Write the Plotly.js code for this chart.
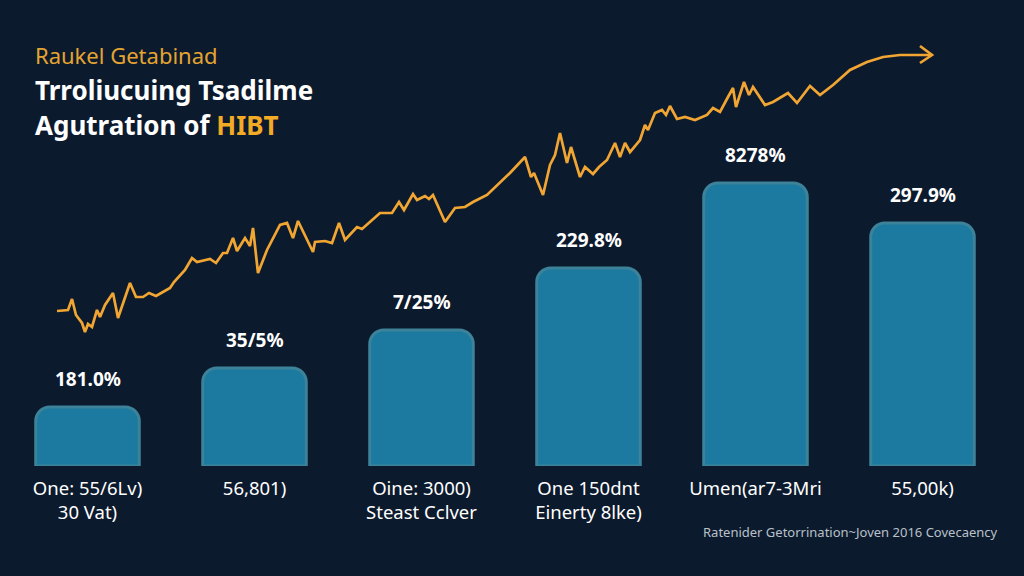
<!DOCTYPE html>
<html>
<head>
<meta charset="utf-8">
<script src="https://cdn.plot.ly/plotly-3.0.1.min.js"></script>
<style>
html,body{margin:0;padding:0;background:#0c1a2d;}
#chart{width:1024px;height:576px;}
</style>
</head>
<body>
<div id="chart"></div>
<script>
// ---- data ----
var categories = ["c1", "c2", "c3", "c4", "c5", "c6"];
var tickLabels = [
  "One: 55/6Lv)<br>30 Vat)",
  "56,801)",
  "Oine: 3000)<br>Steast Cclver",
  "One 150dnt<br>Einerty 8lke)",
  "Umen(ar7-3Mri",
  "55,00k)"
];
var barValues = [59, 98, 136, 198, 283, 243];
var barLabels = ["181.0%", "35/5%", "7/25%", "229.8%", "8278%", "297.9%"];

// trend line (time index, level)
var lineT = [0, 11, 15, 19, 25, 28, 31, 35, 40, 43, 48, 56, 61, 73, 79, 86, 92, 99, 113, 117,
  128, 135, 140, 153, 159, 166, 170, 176, 180, 188, 193, 196, 201, 210, 223, 230, 236, 241, 256, 258,
  268, 275, 282, 288, 300, 305, 323, 335, 342, 347, 356, 360, 368, 372, 376, 388, 398, 408, 416, 430,
  453, 463, 468, 474, 477, 486, 493, 498, 503, 510, 514, 523, 528, 536, 542, 550, 558, 563, 568, 573,
  583, 588, 591, 598, 605, 609, 613, 620, 628, 638, 650, 656, 663, 671, 676, 679, 687, 692, 696, 708,
  716, 731, 740, 753, 763, 776, 793, 810, 826, 843, 875];
var lineV = [155, 156, 167, 151, 143, 134, 142, 139, 156, 149, 161, 173, 148, 183, 169, 169, 173, 170, 178, 184,
  196, 208, 204, 207, 203, 213, 213, 228, 215, 228, 220, 238, 193, 216, 241, 243, 228, 245, 214, 224,
  225, 223, 243, 226, 239, 237, 253, 253, 264, 256, 272, 266, 270, 267, 271, 244, 258, 259, 264, 271,
  293, 303, 309, 289, 293, 271, 301, 311, 333, 303, 319, 289, 299, 292, 299, 306, 323, 309, 323, 314,
  326, 341, 336, 353, 356, 351, 360, 347, 349, 346, 351, 358, 354, 369, 378, 359, 384, 371, 379, 361,
  364, 373, 363, 380, 371, 381, 396, 404, 409, 411, 411];
var arrowT = [863, 875, 863];
var arrowV = [420, 411, 403];

// ---- styles ----
var BG = "#0c1a2d";
var ORANGE = "#f1a633";
var FONT = "Noto Sans, Open Sans, sans-serif";

var traces = [
  {
    type: "bar",
    x: categories,
    y: barValues,
    xaxis: "x",
    yaxis: "y",
    marker: {color: "#1c7aa0", cornerradius: 14, line: {color: "#3c8299", width: 3}},
    hoverinfo: "skip",
    showlegend: false
  },
  {
    type: "scatter",
    mode: "lines",
    x: lineT,
    y: lineV,
    xaxis: "x2",
    yaxis: "y",
    line: {color: ORANGE, width: 2.7, shape: "linear"},
    hoverinfo: "skip",
    showlegend: false
  },
  {
    type: "scatter",
    mode: "lines",
    x: arrowT,
    y: arrowV,
    xaxis: "x2",
    yaxis: "y",
    line: {color: ORANGE, width: 2.7},
    hoverinfo: "skip",
    showlegend: false
  }
];

var annotations = [];
for (var i = 0; i < categories.length; i++) {
  annotations.push({
    x: categories[i], y: barValues[i], xref: "x", yref: "y",
    text: "<b>" + barLabels[i] + "</b>", showarrow: false,
    yshift: 28, yanchor: "middle", xanchor: "center",
    font: {family: FONT, size: 19, color: "#ffffff"}
  });
}
annotations.push(
  {xref: "paper", yref: "paper", x: 33/1024, y: 1 - 55/576, xanchor: "left", yanchor: "middle",
   text: "Raukel Getabinad", showarrow: false,
   font: {family: FONT, size: 22, color: "#e4a431"}},
  {xref: "paper", yref: "paper", x: 33/1024, y: 1 - 90/576, xanchor: "left", yanchor: "middle",
   text: "<b>Trroliucuing Tsadilme</b>", showarrow: false,
   font: {family: FONT, size: 26, color: "#ffffff"}},
  {xref: "paper", yref: "paper", x: 33/1024, y: 1 - 125/576, xanchor: "left", yanchor: "middle",
   text: "<b>Agutration of <span style='color:#f3aa25'>HIBT</span></b>", showarrow: false,
   font: {family: FONT, size: 26, color: "#ffffff"}},
  {xref: "paper", yref: "paper", x: 1000/1024, y: 1 - 532/576, xanchor: "right", yanchor: "middle",
   text: "Ratenider Getorrination~Joven 2016 Covecaency", showarrow: false,
   font: {family: FONT, size: 13, color: "#b9c1ca"}}
);

var layout = {
  width: 1024, height: 576,
  margin: {l: 0, r: 0, t: 0, b: 0, pad: 0},
  paper_bgcolor: BG, plot_bgcolor: BG,
  bargap: 0.38,
  font: {family: FONT, color: "#ffffff"},
  xaxis: {
    type: "category", domain: [4/1024, 1006/1024], range: [-0.5, 5.5],
    tickmode: "array", tickvals: categories, ticktext: tickLabels,
    showgrid: false, zeroline: false, showline: false, ticks: "",
    ticklabelstandoff: 9,
    tickfont: {family: FONT, size: 18.5, color: "#ffffff"},
    fixedrange: true
  },
  xaxis2: {
    overlaying: "x", range: [-53, 949], visible: false, fixedrange: true
  },
  yaxis: {
    domain: [110/576, 1], range: [0, 466], visible: false,
    showgrid: false, zeroline: false, fixedrange: true
  },
  shapes: [
    {type: "line", xref: "paper", yref: "y", x0: 32/1024, x1: 1000/1024, y0: -2, y1: -2,
     line: {color: "#dfe4ea", width: 2}}
  ],
  annotations: annotations
};

Plotly.newPlot("chart", traces, layout, {staticPlot: true, displayModeBar: false});
</script>
</body>
</html>
